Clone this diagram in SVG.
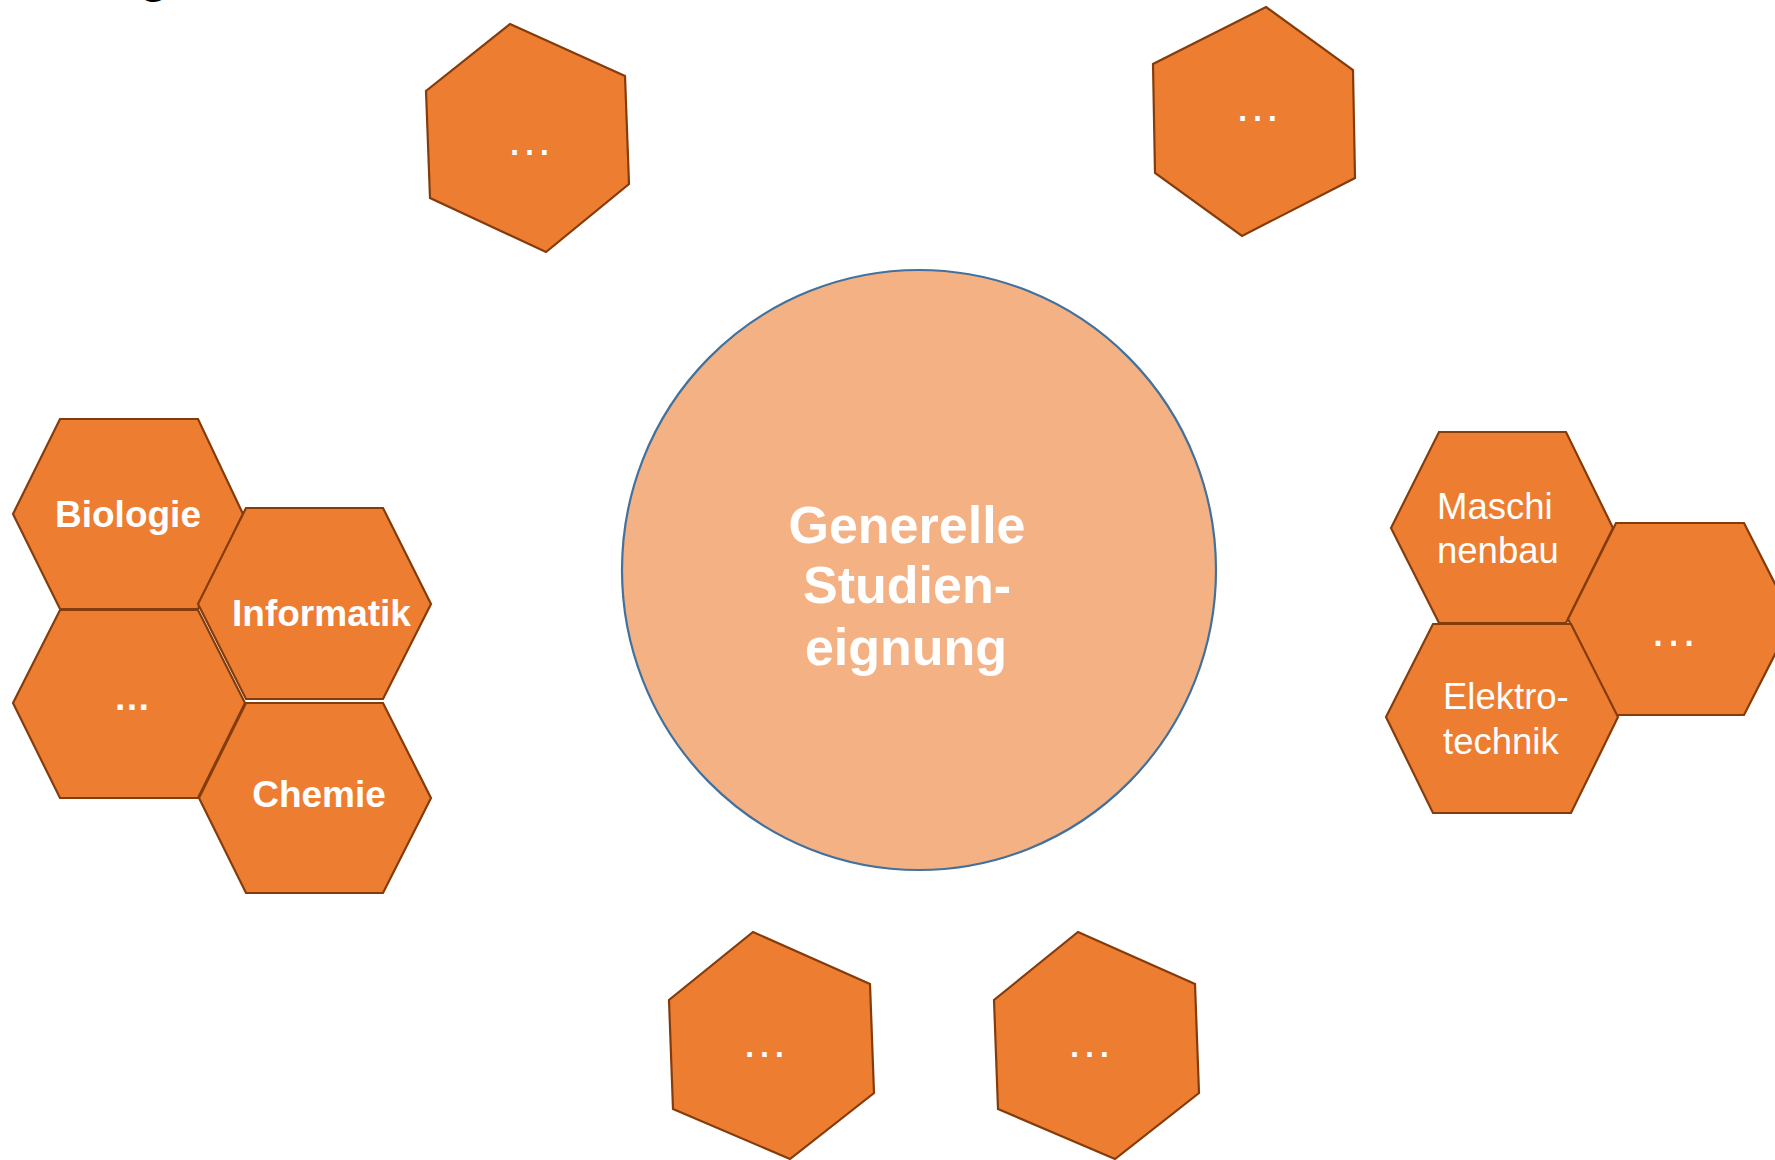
<svg xmlns="http://www.w3.org/2000/svg" width="1775" height="1160" viewBox="0 0 1775 1160">
  <style>
    .hex { fill: #ED7D31; stroke: #843C0C; stroke-width: 2.2; stroke-linejoin: miter; }
    .core { fill: #F4B183; stroke: #41719C; stroke-width: 2.2; }
    .lbl { fill: #FFFFFF; font-family: "Liberation Sans", Arial, sans-serif; }
    .b { font-weight: bold; }
    .mid { text-anchor: middle; }
  </style>

  <!-- heading fragment running off the top edge -->
  <text x="154" y="-8" font-family="Liberation Sans, Arial, sans-serif" font-size="48" font-weight="bold" text-anchor="middle" fill="#000">g</text>

  <!-- central circle -->
  <g id="core">
    <ellipse class="core" cx="919" cy="570" rx="297" ry="300"/>
    <text class="lbl b mid" font-size="52" x="907" y="543">Generelle</text>
    <text class="lbl b mid" font-size="52" x="907" y="603">Studien-</text>
    <text class="lbl b mid" font-size="52" x="906" y="665">eignung</text>
  </g>

  <!-- free-floating hexagons -->
  <g id="hex-top-left">
    <polygon class="hex" points="510,24 625,76 629,184 546,252 430,198 426,91"/>
    <text class="lbl mid" font-size="47" x="529.5" y="154.5">…</text>
  </g>
  <g id="hex-top-right">
    <polygon class="hex" points="1266,7 1353,70 1355,178 1242,236 1155,173 1153,64"/>
    <text class="lbl mid" font-size="47" x="1257.5" y="120.5">…</text>
  </g>
  <g id="hex-bottom-left">
    <polygon class="hex" points="753,932 870,984 874,1093 790,1159 673,1109 669,1000"/>
    <text class="lbl mid" font-size="47" x="764.5" y="1057">…</text>
  </g>
  <g id="hex-bottom-right">
    <polygon class="hex" points="1078,932 1195,984 1199,1093 1115,1159 998,1109 994,1000"/>
    <text class="lbl mid" font-size="47" x="1089.5" y="1057">…</text>
  </g>

  <!-- left cluster -->
  <g id="biologie">
    <polygon class="hex" points="60,419 198,419 243,514 198,609 60,609 13,514"/>
    <text class="lbl b mid" font-size="37" x="128" y="527">Biologie</text>
  </g>
  <g id="left-more">
    <polygon class="hex" points="60,610 198,610 245,703 198,798 60,798 13,703"/>
    <text class="lbl b mid" font-size="37" x="132" y="710">…</text>
  </g>
  <g id="informatik">
    <polygon class="hex" points="246,508 383,508 431,604 383,699 246,699 198,604"/>
    <text class="lbl b mid" font-size="37" x="321.5" y="626">Informatik</text>
  </g>
  <g id="chemie">
    <polygon class="hex" points="246,703 383,703 431,798 383,893 246,893 199,798"/>
    <text class="lbl b mid" font-size="37" x="319" y="807">Chemie</text>
  </g>

  <!-- right cluster -->
  <g id="maschinenbau">
    <polygon class="hex" points="1439,432 1566,432 1613,528 1566,623 1439,623 1391,528"/>
    <text class="lbl" font-size="36.5" x="1437" y="519">Maschi</text>
    <text class="lbl" font-size="36.5" x="1437" y="563">nenbau</text>
  </g>
  <g id="right-more">
    <polygon class="hex" points="1616,523 1744,523 1793,619 1744,715 1616,715 1568,619"/>
    <text class="lbl mid" font-size="49" x="1673.5" y="646">…</text>
  </g>
  <g id="elektrotechnik">
    <polygon class="hex" points="1433,624 1571,624 1618,717 1571,813 1433,813 1386,717"/>
    <text class="lbl" font-size="36.5" x="1443" y="709">Elektro-</text>
    <text class="lbl" font-size="36.5" x="1443" y="754">technik</text>
  </g>
</svg>
